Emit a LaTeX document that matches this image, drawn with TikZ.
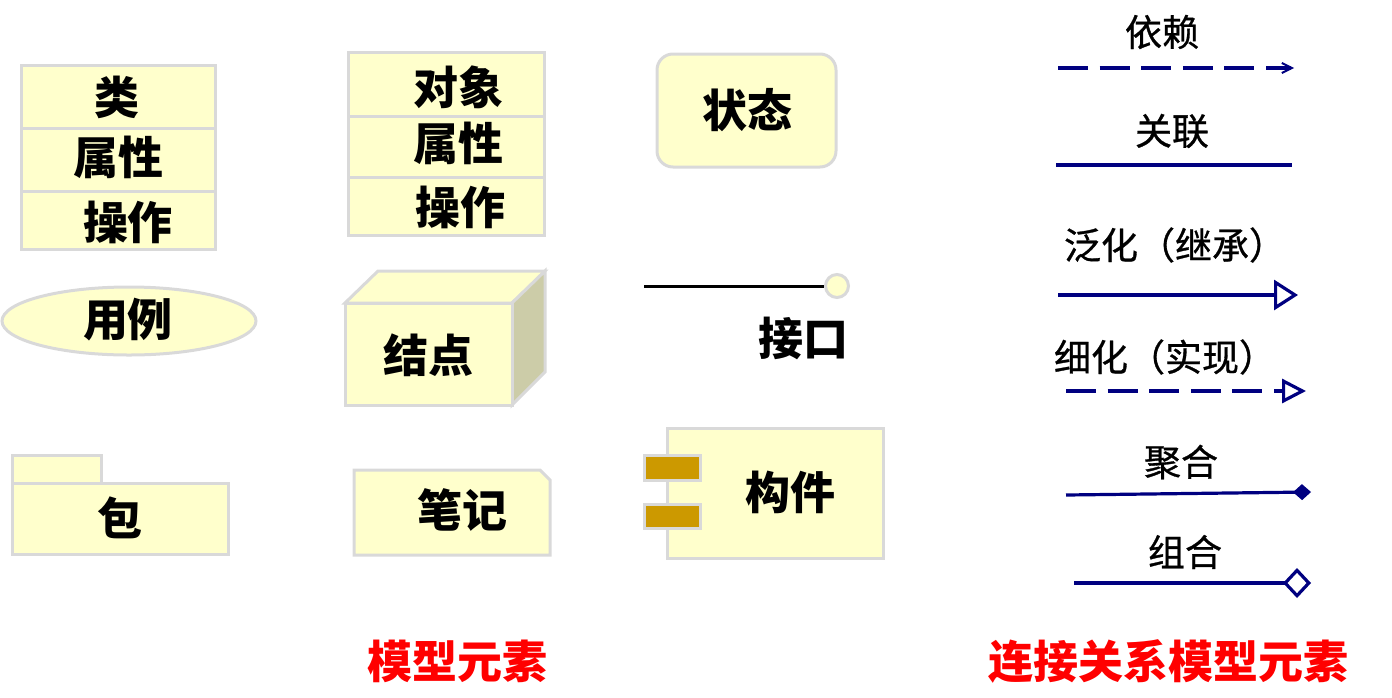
\documentclass[tikz,border=0pt]{standalone}
\usepackage{fontspec}
\newfontfamily\cjk{Noto Sans CJK SC}
\newfontfamily\cjkmed[FakeBold=0.8]{Noto Sans CJK SC}
\usetikzlibrary{arrows.meta,shapes.geometric}
\definecolor{boxfill}{HTML}{FFFFCC}
\definecolor{boxgray}{HTML}{D9D9D9}
\definecolor{navy}{HTML}{000080}
\definecolor{side}{HTML}{CCCCA8}
\definecolor{gold}{HTML}{CC9900}
\tikzset{
  box/.style={draw=boxgray, fill=boxfill, line width=1.5pt},
  lbl/.style={font=\cjk\bfseries\fontsize{22.5}{26}\selectfont, inner sep=0pt},
  rl/.style={font=\cjkmed\fontsize{18.5}{22}\selectfont, inner sep=0pt},
  redl/.style={font=\cjk\bfseries\fontsize{22.5}{26}\selectfont, text=red, inner sep=0pt},
  conn/.style={draw=navy, line width=1.6pt},
  dsh/.style={dash pattern=on 15pt off 5.8pt},
}
\begin{document}
\begin{tikzpicture}[x=0.5pt,y=-0.5pt]
\useasboundingbox (0,0) rectangle (1392,697);
% Class
\draw[box] (21,65) rectangle (215,249);
\draw[draw=boxgray, line width=1.5pt] (21,128) -- (217,128) (21,191) -- (217,191);
\node[lbl] (cls) at (117,97) {类};
\node[lbl] (clsattr) at (118,157) {属性};
\node[lbl] (clsop) at (128,222) {操作};
% Use case
\node[box, ellipse, minimum width=127pt, minimum height=34pt, inner sep=0pt] (uc) at (129,321) {};
\node[lbl] (uct) at (128,320) {用例};
% Object
\draw[box] (348,52) rectangle (544,235);
\draw[draw=boxgray, line width=1.5pt] (348,116) -- (544,116) (348,177) -- (544,177);
\node[lbl] (obj) at (458,87) {对象};
\node[lbl] (objattr) at (458,143) {属性};
\node[lbl] (objop) at (460,207) {操作};
% Node (3D box)
\draw[box] (345,303) -- (378,271) -- (545,271) -- (512,303) -- cycle;
\draw[draw=boxgray, fill=side, line width=1.5pt] (512,303) -- (545,271) -- (545,372) -- (512,405) -- cycle;
\draw[box] (345,303) rectangle (512,405);
\node[lbl] (nd) at (428,355) {结点};
% State
\draw[box, rounded corners=8pt] (657,54) rectangle (836,167);
\node[lbl] (st) at (747,110) {状态};
% Interface
\node[box, circle, minimum size=11.5pt, inner sep=0pt] (ifc) at (837,286) {};
\coordinate (ifl) at (644,286);
\draw[line width=1.5pt] (ifl) -- (ifc.west);
\node[lbl] (ift) at (803,338) {接口};
% Package
\draw[box] (12,455) rectangle (101,483);
\draw[box] (12,483) rectangle (228,554);
\node[lbl] (pk) at (120,518) {包};
% Note
\draw[box] (354,470) -- (540,470) -- (550,480) -- (550,555) -- (354,555) -- cycle;
\node[lbl] (nt) at (462,510) {笔记};
% Component
\draw[box] (667,428) rectangle (883,558);
\draw[draw=boxgray, fill=gold, line width=1.5pt] (644,455) rectangle (700,480);
\draw[draw=boxgray, fill=gold, line width=1.5pt] (644,504) rectangle (700,528);
\node[lbl] (cp) at (790,492) {构件};
% Red captions
\node[redl] (cap1) at (457,661) {模型元素};
\node[redl] (cap2) at (1168,661) {连接关系模型元素};
% Relationships
\node[rl] (dep) at (1162,32) {依赖};
\coordinate (depa) at (1058,68); \coordinate (depb) at (1294,68);
\draw[conn, dsh, -{Straight Barb[length=5pt,width=5pt,line width=1pt]}] (depa) -- (depb);
\node[rl] (asc) at (1172,131) {关联};
\coordinate (asca) at (1056,165); \coordinate (ascb) at (1292,165);
\draw[conn] (asca) -- (ascb);
\node[rl] (gen) at (1175,245) {泛化（继承）};
\coordinate (gena) at (1058,295); \coordinate (genb) at (1298,295);
\draw[conn, -{Triangle[open,length=12pt,width=15pt,fill=white]}] (gena) -- (genb);
\node[rl] (rea) at (1165,357) {细化（实现）};
\coordinate (reaa) at (1066,391); \coordinate (reab) at (1306,391);
\draw[conn, dsh, -{Triangle[open,length=12pt,width=12pt,fill=white]}] (reaa) -- (reab);
\node[rl] (agg) at (1181,462) {聚合};
\coordinate (agga) at (1066,495); \coordinate (aggb) at (1311,492);
\draw[conn, -{Diamond[length=9pt,width=8pt]}] (agga) -- (aggb);
\node[rl] (cmp) at (1185,552) {组合};
\coordinate (cmpa) at (1074,583); \coordinate (cmpb) at (1311,583);
\draw[conn, -{Diamond[open,length=14pt,width=15pt,fill=white]}] (cmpa) -- (cmpb);
\end{tikzpicture}
\end{document}
